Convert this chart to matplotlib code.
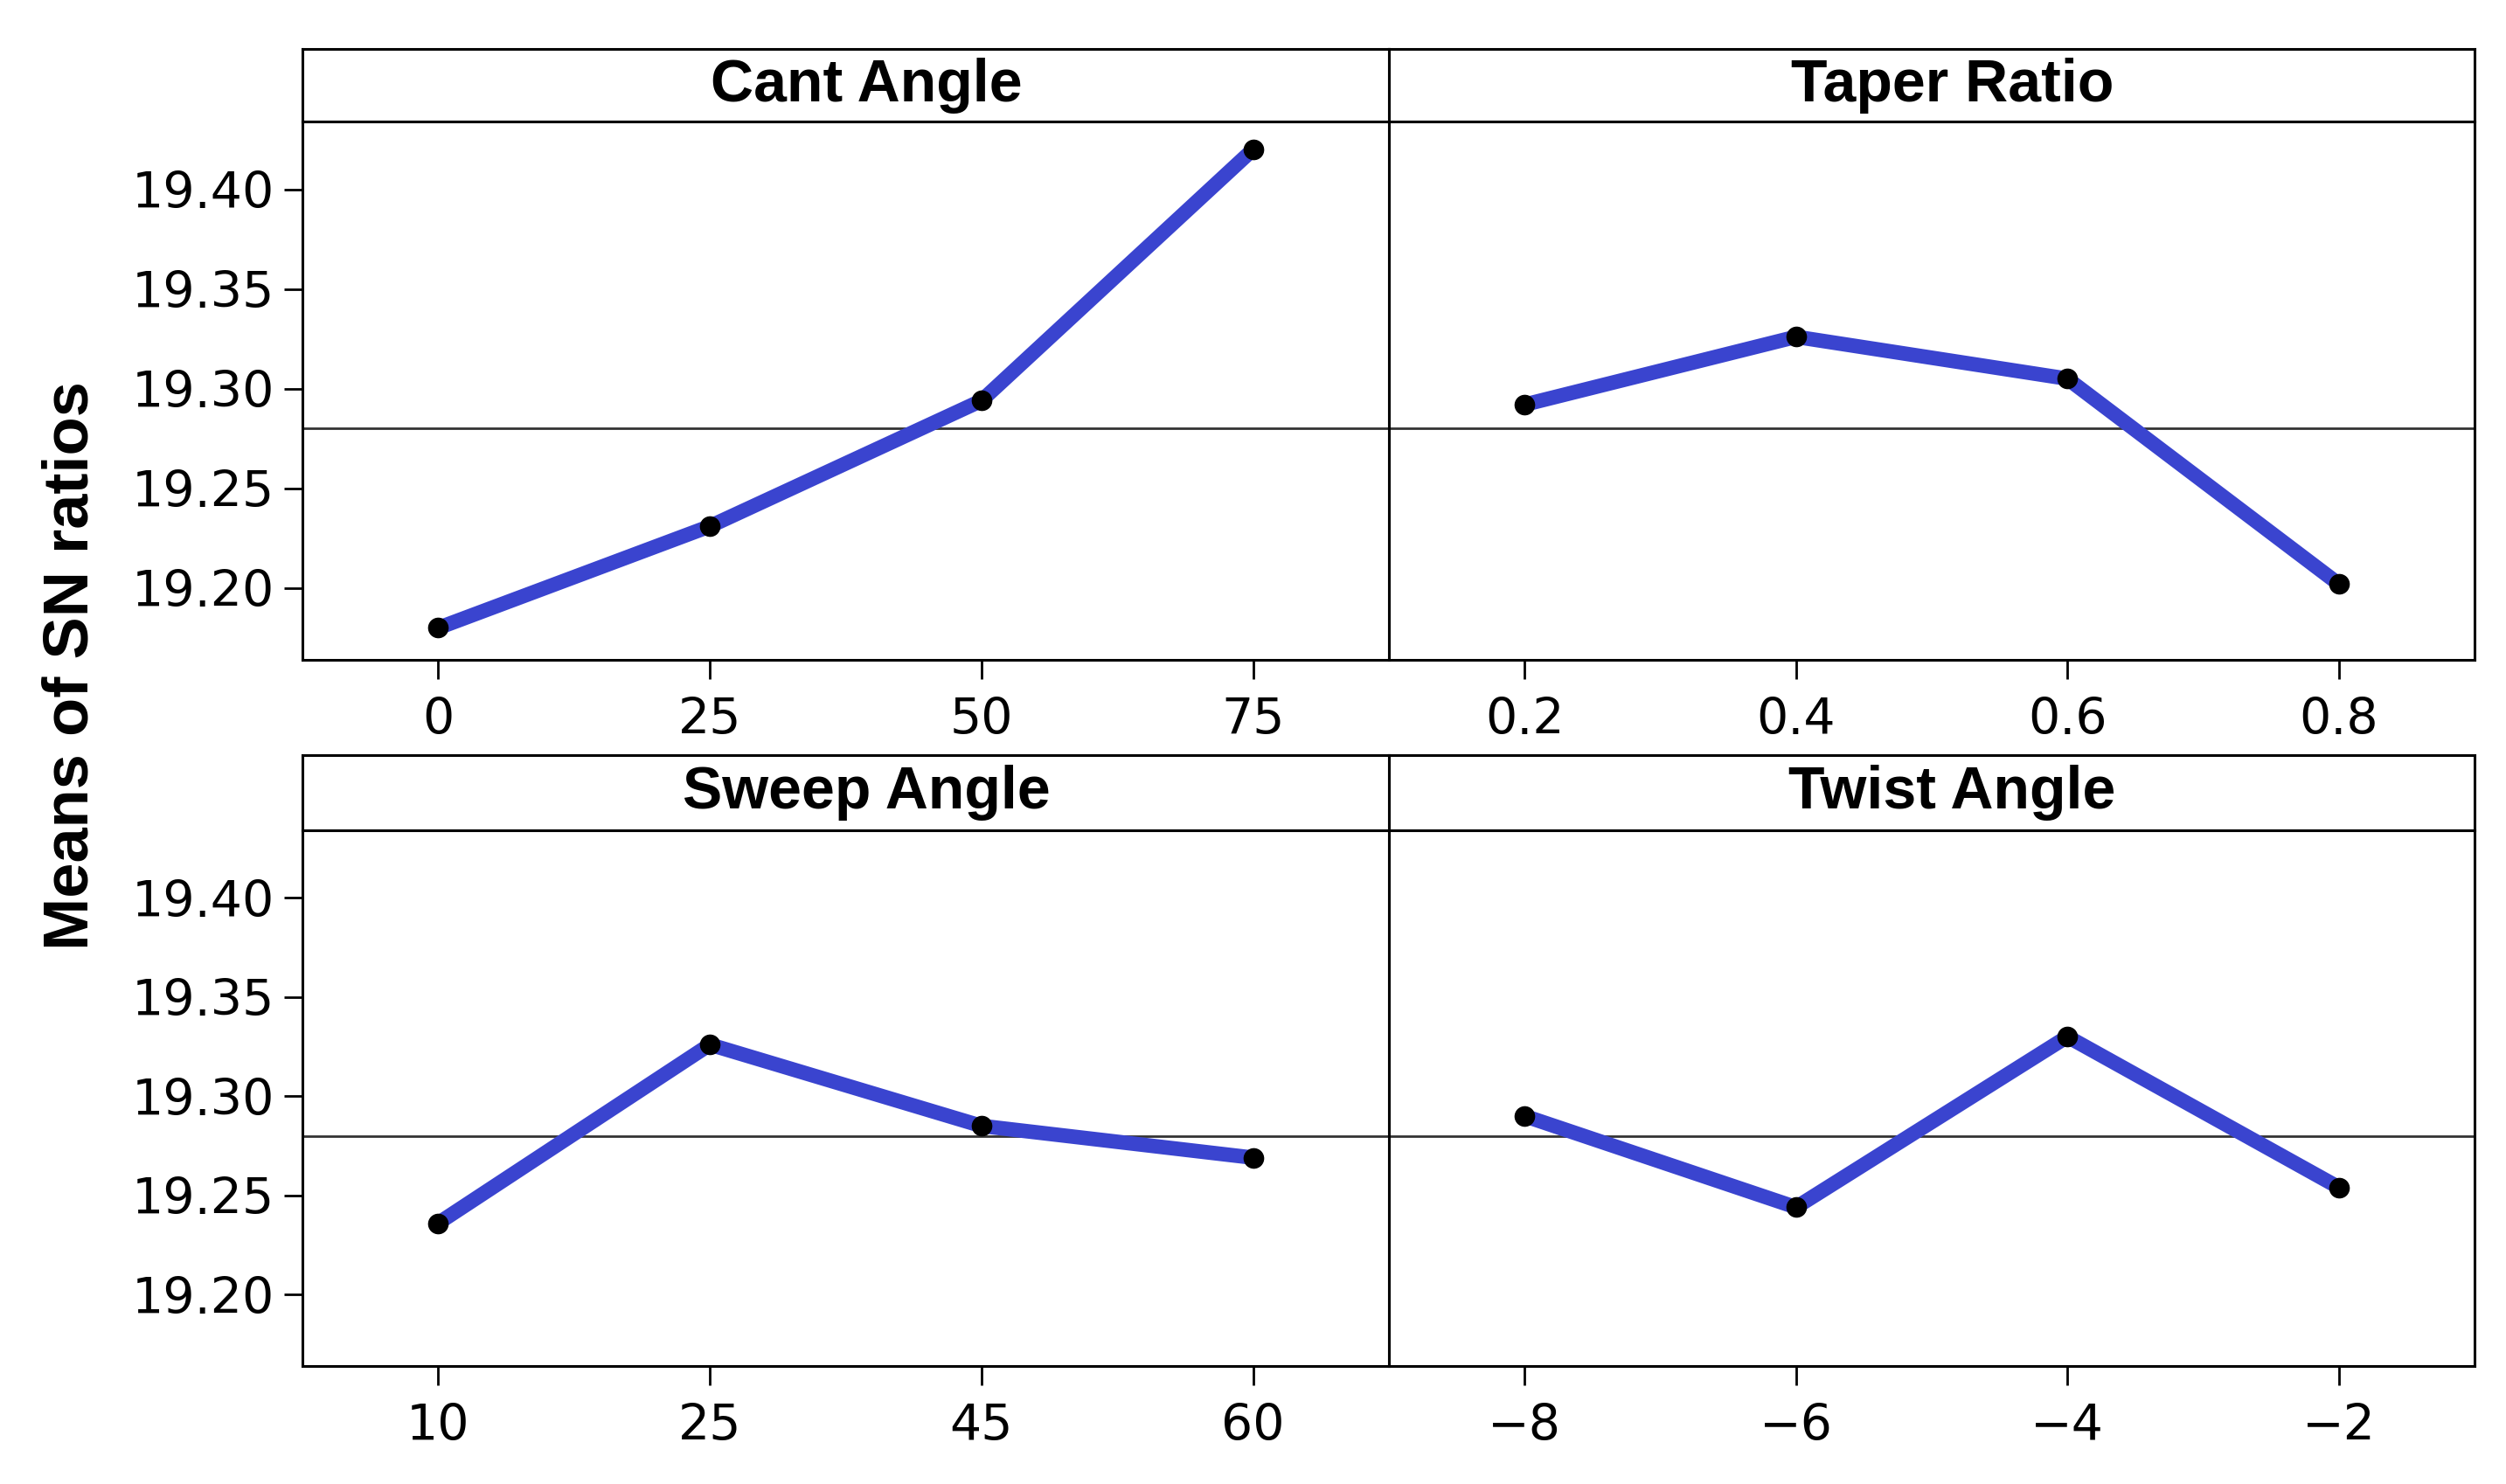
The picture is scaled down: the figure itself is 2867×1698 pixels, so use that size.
import matplotlib
matplotlib.use("Agg")
import matplotlib.pyplot as plt
import numpy as np

# factor levels and mean SN ratios
cant_levels = ["0", "25", "50", "75"]
cant_sn = [19.180, 19.231, 19.294, 19.420]

taper_levels = ["0.2", "0.4", "0.6", "0.8"]
taper_sn = [19.292, 19.326, 19.305, 19.202]

sweep_levels = ["10", "25", "45", "60"]
sweep_sn = [19.236, 19.326, 19.285, 19.269]

twist_levels = ["\u22128", "\u22126", "\u22124", "\u22122"]
twist_sn = [19.290, 19.244, 19.330, 19.254]

grand_mean = 19.280
y_ticks = [19.20, 19.25, 19.30, 19.35, 19.40]

panels = [
    ("Cant Angle", cant_levels, cant_sn),
    ("Taper Ratio", taper_levels, taper_sn),
    ("Sweep Angle", sweep_levels, sweep_sn),
    ("Twist Angle", twist_levels, twist_sn),
]

W, H = 2867, 1698
fig = plt.figure(figsize=(W / 100, H / 100), dpi=100)

tick_font = ["Liberation Sans Narrow", "DejaVu Sans"]
title_font = ["Liberation Sans", "DejaVu Sans"]

# pixel layout: columns (left, right), rows (strip top, plot top, plot bottom)
cols = [(346, 1589), (1589, 2831)]
rows = [(56, 139, 755), (864, 950, 1563)]

line_blue = "#3A44CF"

for i, (name, levels, vals) in enumerate(panels):
    r, c = divmod(i, 2)
    x0, x1 = cols[c]
    s_top, p_top, p_bot = rows[r]

    ax = fig.add_axes([x0 / W, 1 - p_bot / H, (x1 - x0) / W, (p_bot - p_top) / H])
    st = fig.add_axes([x0 / W, 1 - p_top / H, (x1 - x0) / W, (p_top - s_top) / H])

    xs = np.arange(len(levels))
    ax.axhline(grand_mean, color="#333333", lw=2, zorder=1)
    ax.plot(xs, vals, color=line_blue, lw=12, solid_capstyle="butt", zorder=2)
    ax.plot(xs, vals, "o", color="black", ms=16, zorder=3)

    ax.set_xlim(-0.5, 3.5)
    ax.set_ylim(19.164, 19.434)
    ax.set_xticks(xs)
    ax.set_xticklabels(levels, fontfamily=tick_font, fontsize=41)
    ax.set_yticks(y_ticks)
    if c == 0:
        ax.set_yticklabels([f"{v:.2f}" for v in y_ticks], fontfamily=tick_font, fontsize=41)
        ax.tick_params(axis="y", length=15, width=2, pad=8)
    else:
        ax.tick_params(axis="y", left=False, labelleft=False)
    ax.tick_params(axis="x", length=16, width=2, pad=14)
    for sp in ax.spines.values():
        sp.set_linewidth(2.2)

    st.set_xticks([])
    st.set_yticks([])
    for sp in st.spines.values():
        sp.set_linewidth(2.2)
    st.text(0.519, 0.5, name, ha="center", va="center", fontsize=49,
            fontweight="bold", fontfamily=title_font, transform=st.transAxes)

fig.text(82 / W, 1 - 762 / H, "Means of SN ratios", rotation=90, ha="center", va="center",
         fontsize=52, fontweight="bold", fontfamily=title_font)

fig.savefig("out.png", dpi=100)
